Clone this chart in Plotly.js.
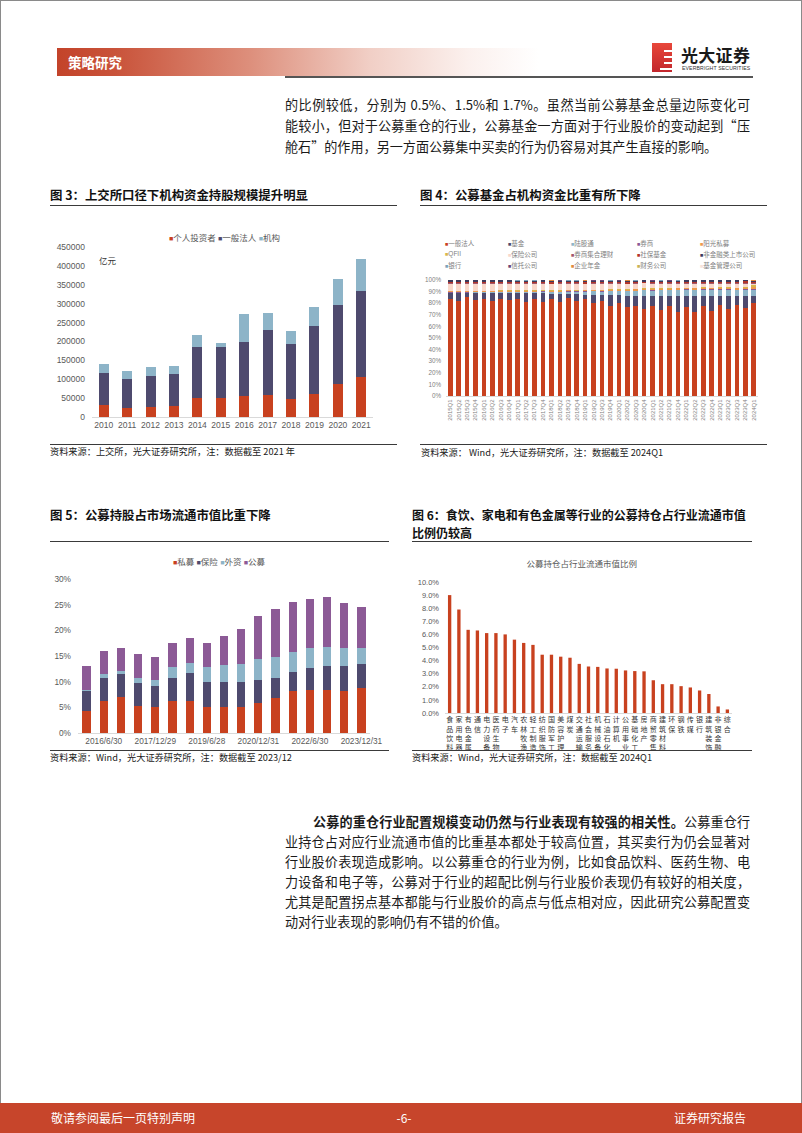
<!DOCTYPE html>
<html><head><meta charset="utf-8">
<script src="https://cdn.plot.ly/plotly-3.0.1.min.js"></script>
<style>
body{margin:0;width:802px;height:1133px;position:relative;background:#fff;font-family:"Noto Sans CJK SC","Liberation Sans",sans-serif;overflow:hidden}
.a{position:absolute}
.ln{position:absolute;left:285px;width:465px;height:19px;line-height:19px;font-size:13.1px;color:#1a1a1a;text-align:justify;text-align-last:justify;word-break:break-all}
.tt{position:absolute;font-size:12.4px;font-weight:bold;color:#111;line-height:18px;white-space:nowrap}
.rule{position:absolute;height:1.4px;background:#3a3a3a}
.src{position:absolute;font-size:9.2px;color:#1a1a1a;line-height:12px;white-space:nowrap}
.chart{position:absolute}
</style></head><body>
<div class="a" style="left:0;top:0;width:802px;height:1133px;box-sizing:border-box;border:1px solid #8a8a8a"></div>
<!-- header -->
<div class="a" style="left:57px;top:48px;width:482px;height:28px;background:linear-gradient(90deg,#c3432a 0%,#c9533a 12%,#dd8f7c 40%,#f1cfc6 65%,#fbf0ed 85%,#ffffff 100%)"></div>
<div class="a" style="left:68px;top:48px;height:28px;line-height:28px;font-size:13.5px;font-weight:bold;color:#fff">策略研究</div>
<div class="a" style="left:652px;top:43px;width:20px;height:29px;background:linear-gradient(180deg,#e8473a,#c2272d)"></div>
<div class="a" style="left:664px;top:50px;width:8px;height:2px;background:#fff"></div>
<div class="a" style="left:664px;top:56px;width:8px;height:2px;background:#fff"></div>
<div class="a" style="left:664px;top:62px;width:8px;height:2px;background:#fff"></div>
<div class="a" style="left:660px;top:68px;width:12px;height:1.5px;background:#fff"></div>
<div class="a" style="left:681px;top:44px;font-size:17px;font-weight:bold;color:#1a1a1a;line-height:22px;letter-spacing:0.3px">光大证券</div>
<div class="a" style="left:682px;top:65px;font-size:5.2px;color:#333;line-height:6px;font-family:'Liberation Sans';letter-spacing:0.1px">EVERBRIGHT SECURITIES</div>
<div class="a" style="left:285px;top:76px;width:468px;height:2px;background:#555"></div>
<!-- paragraph 1 -->
<div class="ln" style="top:95px">的比例较低，分别为 0.5%、1.5%和 1.7%。虽然当前公募基金总量边际变化可</div>
<div class="ln" style="top:116px">能较小，但对于公募重仓的行业，公募基金一方面对于行业股价的变动起到“压</div>
<div class="ln" style="top:137px;text-align:left;text-align-last:left">舱石”的作用，另一方面公募集中买卖的行为仍容易对其产生直接的影响。</div>
<!-- chart 3 frame -->
<div class="tt" style="left:50px;top:186px">图 3：上交所口径下机构资金持股规模提升明显</div>
<div class="rule" style="left:50px;top:205px;width:347px"></div>
<div id="c3" class="chart" style="left:40px;top:220px;width:370px;height:220px"></div>
<div class="rule" style="left:50px;top:444px;width:347px"></div>
<div class="src" style="left:50px;top:445px">资料来源：上交所，光大证券研究所，注：数据截至 2021 年</div>
<!-- chart 4 frame -->
<div class="tt" style="left:420px;top:186px">图 4：公募基金占机构资金比重有所下降</div>
<div class="rule" style="left:420px;top:205px;width:347px"></div>
<div id="c4" class="chart" style="left:410px;top:230px;width:380px;height:215px"></div>
<div class="rule" style="left:420px;top:444px;width:347px"></div>
<div class="src" style="left:421px;top:446px">资料来源： Wind，光大证券研究所，注：数据截至 2024Q1</div>
<!-- chart 5 frame -->
<div class="tt" style="left:50px;top:506px">图 5：公募持股占市场流通市值比重下降</div>
<div class="rule" style="left:50px;top:541px;width:339px"></div>
<div id="c5" class="chart" style="left:40px;top:545px;width:370px;height:205px"></div>
<div class="rule" style="left:50px;top:750px;width:339px"></div>
<div class="src" style="left:50px;top:751px">资料来源：Wind，光大证券研究所，注：数据截至 2023/12</div>
<!-- chart 6 frame -->
<div class="tt" style="left:412px;top:506px;font-size:12px">图 6：食饮、家电和有色金属等行业的公募持仓占行业流通市值<br>比例仍较高</div>
<div class="rule" style="left:412px;top:541px;width:340px"></div>
<div id="c6" class="chart" style="left:410px;top:548px;width:380px;height:202px"></div>
<div class="rule" style="left:412px;top:750px;width:340px"></div>
<div class="src" style="left:412px;top:751px">资料来源：Wind，光大证券研究所，注：数据截至 2024Q1</div>
<!-- paragraph 2 -->
<div class="ln" style="top:812px;left:313px;width:437px"><b>公募的重仓行业配置规模变动仍然与行业表现有较强的相关性。</b>公募重仓行</div>
<div class="ln" style="top:832px">业持仓占对应行业流通市值的比重基本都处于较高位置，其买卖行为仍会显著对</div>
<div class="ln" style="top:852px">行业股价表现造成影响。以公募重仓的行业为例，比如食品饮料、医药生物、电</div>
<div class="ln" style="top:872px">力设备和电子等，公募对于行业的超配比例与行业股价表现仍有较好的相关度，</div>
<div class="ln" style="top:892px">尤其是配置拐点基本都能与行业股价的高点与低点相对应，因此研究公募配置变</div>
<div class="ln" style="top:912px;text-align:left;text-align-last:left">动对行业表现的影响仍有不错的价值。</div>
<!-- footer -->
<div class="a" style="left:0;top:1103px;width:802px;height:30px;background:#c7452b"></div>
<div class="a" style="left:51px;top:1103px;height:30px;line-height:30px;font-size:12px;color:#fff">敬请参阅最后一页特别声明</div>
<div class="a" style="left:394px;top:1103px;width:20px;text-align:center;height:30px;line-height:30px;font-size:12px;color:#fff">-6-</div>
<div class="a" style="left:674px;top:1103px;height:30px;line-height:30px;font-size:12px;color:#fff">证券研究报告</div>

<script>
const FONT = '"Liberation Sans", "Noto Sans CJK SC", sans-serif';
const RED = '#C8411F', NAVY = '#4E4A6E', LBLUE = '#8DB4C8', PURP = '#8C5A96';
const GRAY = '#595959';

// ---------- Chart 3 data (亿元) ----------
const years3 = ['2010','2011','2012','2013','2014','2015','2016','2017','2018','2019','2020','2021'];
const names3 = ['个人投资者','一般法人','机构'];
const geren3 = [30700,23700,25400,28000,50900,50900,56100,57000,46500,61400,86800,105300];
const faren3 = [86800,76300,82500,86000,135100,135100,141300,172000,147400,179000,209700,228000];
const jigou3 = [23700,22000,25400,21000,31500,8700,74600,47300,33300,50800,67500,85100];
const colors3 = [RED, NAVY, LBLUE];

// ---------- Chart 4 data (%) ----------
const quarters4 = ['2015Q1','2015Q2','2015Q3','2015Q4','2016Q1','2016Q2','2016Q3','2016Q4',
 '2017Q1','2017Q2','2017Q3','2017Q4','2018Q1','2018Q2','2018Q3','2018Q4',
 '2019Q1','2019Q2','2019Q3','2019Q4','2020Q1','2020Q2','2020Q3','2020Q4',
 '2021Q1','2021Q2','2021Q3','2021Q4','2022Q1','2022Q2','2022Q3','2022Q4',
 '2023Q1','2023Q2','2023Q3','2023Q4','2024Q1'];
const names4 = ['一般法人','基金','陆股通','券商','阳光私募','QFII','保险公司','券商集合理财','社保基金','非金融类上市公司','银行','信托公司','企业年金','财务公司','基金管理公司'];
const colors4 = ['#C8411F','#4E4A6E','#8DB4C8','#8C5A96','#EE9A4D','#D8B64B','#F9D8CB','#A3576C','#B3362B','#3D3A5C','#7DA3BA','#6C4778','#E08A3C','#C9B356','#F7E3DA'];
const yiban4 = [84.0,81.8,85.0,82.5,84.0,82.0,84.0,82.5,84.0,81.0,84.0,81.0,84.0,81.0,84.5,82.0,83.5,80.5,81.8,77.9,80.5,76.6,77.9,75.0,77.2,74.2,77.5,72.5,76.9,72.5,77.5,73.2,78.5,75.0,78.2,76.0,80.0];
const jijin4 = [4.8,7.0,3.8,6.3,4.8,6.8,4.8,6.3,4.5,7.5,4.5,7.5,4.0,7.0,3.5,6.0,4.0,7.0,5.4,9.3,6.5,9.9,8.6,11.5,8.8,11.8,8.5,13.5,9.1,13.5,8.5,12.8,7.5,11.0,7.8,10.5,6.5];
const lugutong4 = [0.3,0.4,0.4,0.5,0.5,0.5,0.6,0.6,0.8,0.9,1.0,1.2,1.4,1.6,1.8,1.7,2.3,2.6,2.8,3.0,3.2,3.8,4.0,4.6,4.8,5.1,5.0,5.4,5.5,5.4,5.6,5.5,5.6,5.6,5.3,5.2,5.0];
const quanshang4 = [0.5,0.5,0.4,0.4,0.4,0.4,0.4,0.4,0.4,0.4,0.4,0.4,0.4,0.4,0.4,0.4,0.4,0.4,0.4,0.4,0.4,0.4,0.4,0.4,0.4,0.4,0.4,0.4,0.4,0.4,0.4,0.4,0.4,0.4,0.4,0.5,0.6];
const yangguang4 = [0.6,0.7,0.6,0.6,0.7,0.7,0.7,0.8,0.8,0.8,0.8,0.8,0.8,0.8,0.8,0.8,0.8,0.8,0.8,0.9,0.9,1.0,1.0,1.1,1.1,1.1,1.0,1.0,1.0,1.0,1.0,1.0,1.0,1.0,1.0,1.1,2.2];
const qfii4 = [0.5,0.5,0.5,0.5,0.5,0.5,0.5,0.5,0.5,0.5,0.5,0.5,0.5,0.5,0.5,0.5,0.5,0.5,0.5,0.5,0.5,0.5,0.6,0.6,0.6,0.6,0.6,0.6,0.6,0.6,0.6,0.6,0.6,0.6,0.6,0.6,1.0];
const baoxian4 = [6.1,6.0,6.1,6.0,6.0,5.9,5.9,5.8,5.7,5.6,5.5,5.4,5.4,5.3,5.2,5.3,5.0,4.8,4.9,4.7,4.6,4.3,4.2,3.9,3.7,3.5,3.6,3.3,3.4,3.5,3.3,3.4,3.3,3.3,3.5,2.8,1.5];
const jihe4 = [0.4,0.4,0.4,0.4,0.4,0.4,0.4,0.4,0.4,0.4,0.4,0.4,0.4,0.4,0.4,0.4,0.4,0.4,0.4,0.4,0.4,0.4,0.4,0.4,0.4,0.4,0.4,0.4,0.4,0.4,0.4,0.4,0.4,0.4,0.4,0.4,0.3];
const shebao4 = [1.1,1.1,1.1,1.1,1.1,1.1,1.1,1.1,1.1,1.1,1.1,1.1,1.1,1.1,1.1,1.1,1.1,1.1,1.1,1.1,1.1,1.1,1.1,1.1,1.1,1.1,1.1,1.1,1.1,1.1,1.1,1.1,1.1,1.1,1.1,2.0,1.2];
const feijin4 = [1.3,1.3,1.3,1.3,1.3,1.3,1.3,1.3,1.3,1.3,1.3,1.3,1.3,1.3,1.3,1.3,1.3,1.3,1.3,1.3,1.3,1.3,1.3,1.3,1.3,1.3,1.3,1.3,1.3,1.3,1.3,1.3,1.3,1.3,1.3,1.2,1.0];
const yinhang4 = [0.1,0.1,0.1,0.1,0.1,0.1,0.1,0.1,0.1,0.1,0.1,0.1,0.1,0.1,0.1,0.1,0.1,0.1,0.1,0.1,0.1,0.1,0.1,0.1,0.1,0.1,0.1,0.1,0.1,0.1,0.1,0.1,0.1,0.1,0.1,0.1,0.1];
const xintuo4 = [0.15,0.15,0.15,0.15,0.15,0.15,0.15,0.15,0.15,0.15,0.15,0.15,0.15,0.15,0.15,0.15,0.15,0.15,0.15,0.15,0.15,0.15,0.15,0.15,0.15,0.15,0.15,0.15,0.15,0.15,0.15,0.15,0.15,0.15,0.15,0.15,0.15];
const nianjin4 = [0.1,0.1,0.1,0.1,0.1,0.1,0.1,0.1,0.1,0.1,0.1,0.1,0.1,0.1,0.1,0.1,0.1,0.1,0.1,0.1,0.1,0.1,0.1,0.1,0.1,0.1,0.1,0.1,0.1,0.1,0.1,0.1,0.1,0.1,0.1,0.1,0.4];
const caiwu4 = [0.05,0.05,0.05,0.05,0.05,0.05,0.05,0.05,0.05,0.05,0.05,0.05,0.05,0.05,0.05,0.05,0.05,0.05,0.05,0.05,0.05,0.05,0.05,0.05,0.05,0.05,0.05,0.05,0.05,0.05,0.05,0.05,0.05,0.05,0.05,0.05,0.05];
const guanli4 = [0.1,0.1,0.1,0.1,0.1,0.1,0.1,0.1,0.1,0.1,0.1,0.1,0.1,0.1,0.1,0.1,0.1,0.1,0.1,0.1,0.1,0.1,0.1,0.1,0.1,0.1,0.1,0.1,0.1,0.1,0.1,0.1,0.1,0.1,0.1,0.1,0.1];
const series4 = [yiban4,jijin4,lugutong4,quanshang4,yangguang4,qfii4,baoxian4,jihe4,shebao4,feijin4,yinhang4,xintuo4,nianjin4,caiwu4,guanli4];

// ---------- Chart 5 data (%) ----------
const dates5 = ['2015/12/31','2016/6/30','2016/12/30','2017/6/30','2017/12/29','2018/6/29','2018/12/28','2019/6/28','2019/12/31','2020/6/30','2020/12/31','2021/6/30','2021/12/31','2022/6/30','2022/12/30','2023/6/30','2023/12/31'];
const ticks5 = ['2016/6/30','2017/12/29','2019/6/28','2020/12/31','2022/6/30','2023/12/31'];
const names5 = ['私募','保险','外资','公募'];
const colors5 = [RED, NAVY, LBLUE, PURP];
const simu5 = [4.2,6.3,7.0,5.3,5.0,6.3,6.3,5.1,5.0,5.1,5.8,6.9,8.1,8.3,8.4,8.1,8.7];
const baoxian5 = [3.9,4.5,4.5,4.4,4.1,4.5,5.4,4.9,4.9,4.9,4.6,3.8,3.8,4.4,4.7,4.9,4.8];
const waizi5 = [0.3,0.6,0.5,1.0,1.3,2.0,2.0,2.8,3.4,3.5,4.0,4.2,3.9,3.9,3.7,3.6,3.1];
const gongmu5 = [4.7,4.6,4.6,4.6,4.4,4.7,4.8,4.8,5.5,6.8,8.4,9.2,9.7,9.5,9.6,8.8,8.0];

// ---------- Chart 6 data (%) ----------
const inds6 = ['食品饮料','家用电器','有色金属','通信','电力设备','医药生物','电子','汽车','农林牧渔','轻工制造','纺织服饰','国防军工','美容护理','煤炭','交通运输','社会服务','机械设备','石油石化','计算机','公用事业','基础化工','房地产','商贸零售','建筑材料','环保','钢铁','传媒','银行','建筑装饰','非银金融','综合'];
const vals6 = [9.0,7.9,6.35,6.3,6.1,6.1,6.0,5.6,5.35,5.2,4.45,4.45,4.3,4.22,3.75,3.55,3.52,3.4,3.38,3.25,3.2,3.18,2.5,2.2,2.2,2.05,1.95,1.72,1.45,0.5,0.27];
const title6 = '公募持仓占行业流通市值比例';

const cfg = {staticPlot:true, displayModeBar:false};
const base = {paper_bgcolor:'rgba(0,0,0,0)', plot_bgcolor:'rgba(0,0,0,0)', showlegend:false, font:{family:FONT,size:8.5,color:GRAY}};
function legendText(names, colors, sq){
  return names.map((n,i)=>'<span style="color:'+colors[i]+';font-size:'+sq+'px">■</span>'+n).join(' ');
}

// Chart 3
Plotly.newPlot('c3', [geren3, faren3, jigou3].map((v,i)=>({
  type:'bar', x:years3, y:v, name:names3[i], marker:{color:colors3[i], line:{width:0}}
})), Object.assign({}, base, {
  width:370, height:220, margin:{l:52,r:37,t:27,b:23},
  barmode:'stack', bargap:0.575,
  xaxis:{type:'category', showline:true, linecolor:'#d9d9d9', linewidth:1, ticks:'', showgrid:false, zeroline:false, tickfont:{size:8.5,color:GRAY}},
  yaxis:{range:[0,450000], dtick:50000, tickformat:'d', showgrid:false, zeroline:false, showline:false, ticks:'', ticklabelstandoff:6, tickfont:{size:8.5,color:GRAY}},
  annotations:[
    {xref:'paper', yref:'paper', x:0.473, y:1.053, xanchor:'center', yanchor:'middle', showarrow:false, text:legendText(names3, colors3, 7), font:{size:8.5,color:GRAY}},
    {xref:'paper', yref:'paper', x:0.018, y:0.918, xanchor:'left', yanchor:'middle', showarrow:false, text:'亿元', font:{size:8.5,color:'#333'}}
  ]
}), cfg);

// Chart 4
const legX4 = [-0.009, 0.193, 0.395, 0.606, 0.808];
const legY4 = [1.316, 1.224, 1.127];
Plotly.newPlot('c4', series4.map((v,i)=>({
  type:'bar', x:quarters4, y:v, name:names4[i], marker:{color:colors4[i], line:{width:0}}
})), Object.assign({}, base, {
  width:380, height:215, margin:{l:36,r:32,t:50,b:49},
  barmode:'stack', bargap:0.45,
  xaxis:{type:'category', showline:true, linecolor:'#d9d9d9', linewidth:1, ticks:'', showgrid:false, zeroline:false, tickangle:-90, tickfont:{size:6,color:'#7f7f7f'}},
  yaxis:{range:[0,100], dtick:10, ticksuffix:'%', showgrid:false, zeroline:false, showline:false, ticks:'', ticklabelstandoff:4, tickfont:{size:6.3,color:'#7f7f7f'}},
  annotations: names4.map((n,i)=>({
    xref:'paper', yref:'paper', x:legX4[i%5], y:legY4[Math.floor(i/5)], xanchor:'left', yanchor:'middle', showarrow:false,
    text:'<span style="color:'+colors4[i]+';font-size:5.5px">■</span>'+n, font:{size:6.5,color:'#7f7f7f'}
  }))
}), cfg);

// Chart 5
Plotly.newPlot('c5', [simu5, baoxian5, waizi5, gongmu5].map((v,i)=>({
  type:'bar', x:dates5, y:v, name:names5[i], marker:{color:colors5[i], line:{width:0}}
})), Object.assign({}, base, {
  width:370, height:205, margin:{l:38,r:40,t:34,b:17},
  barmode:'stack', bargap:0.52,
  xaxis:{type:'category', showline:true, linecolor:'#d9d9d9', linewidth:1, ticks:'', showgrid:false, zeroline:false, tickvals:ticks5, ticktext:ticks5, tickangle:0, tickfont:{size:8.3,color:GRAY}},
  yaxis:{range:[0,30], dtick:5, ticksuffix:'%', showgrid:false, zeroline:false, showline:false, ticks:'', ticklabelstandoff:6, tickfont:{size:8.3,color:GRAY}},
  annotations:[
    {xref:'paper', yref:'paper', x:0.486, y:1.11, xanchor:'center', yanchor:'middle', showarrow:false, text:legendText(names5, colors5, 7), font:{size:8.5,color:GRAY}}
  ]
}), cfg);

// Chart 6
Plotly.newPlot('c6', [{
  type:'bar', x:inds6, y:vals6, marker:{color:RED, line:{width:0}}
}], Object.assign({}, base, {
  width:380, height:202, margin:{l:35,r:58,t:34,b:37},
  bargap:0.64,
  title:{text:title6, font:{size:8.5,color:GRAY}, x:0.452, xanchor:'center', y:0.921, yanchor:'middle'},
  xaxis:{type:'category', showline:true, linecolor:'#d9d9d9', linewidth:1, ticks:'', showgrid:false, zeroline:false,
    tickvals:inds6, ticktext:inds6.map(c=>c.split('').join('<br>')), tickangle:0, tickfont:{size:7,color:'#333'}},
  yaxis:{range:[0,10], dtick:1, tickformat:'.1f', ticksuffix:'%', showgrid:false, zeroline:false, showline:false, ticks:'', ticklabelstandoff:5, tickfont:{size:7.5,color:GRAY}}
}), cfg);
</script>
</body></html>
